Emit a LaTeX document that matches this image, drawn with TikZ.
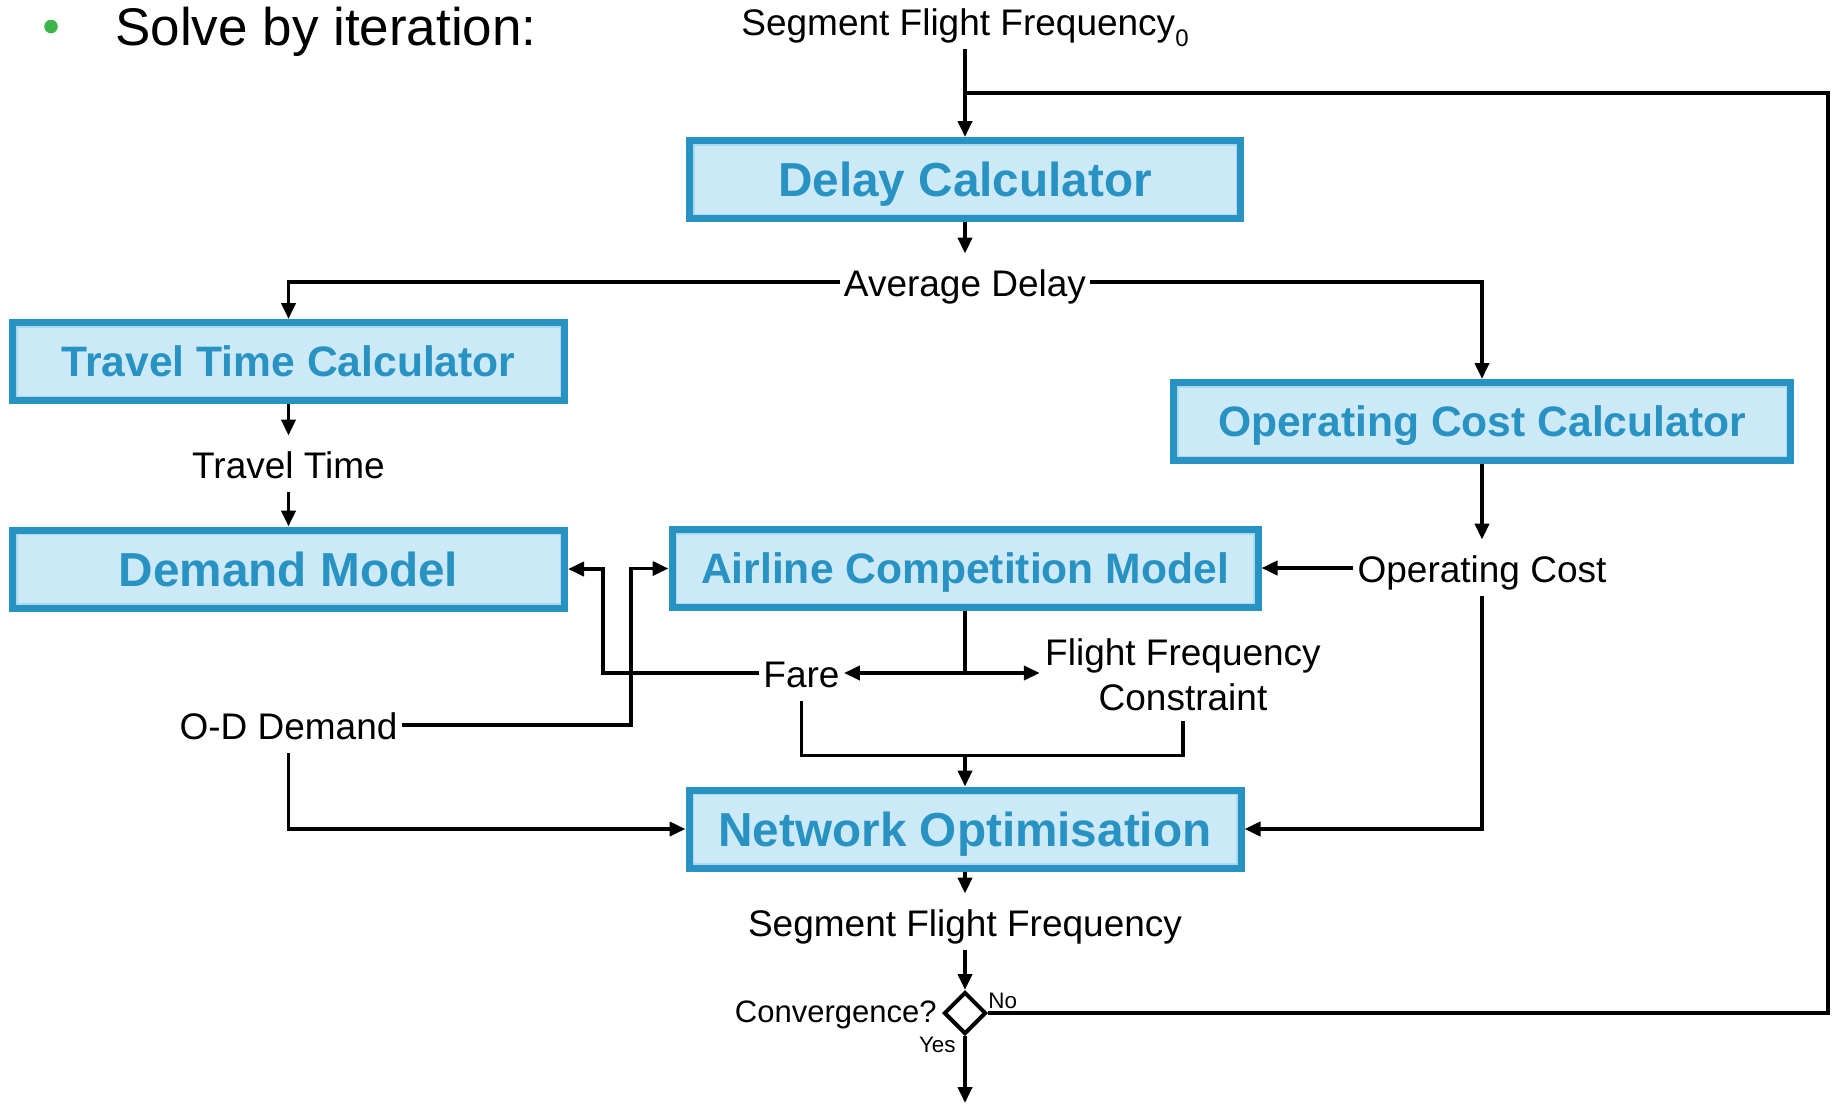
\documentclass[tikz,border=0pt]{standalone}
\usepackage{fontspec}
\setmainfont{Liberation Sans}
\usetikzlibrary{arrows.meta,shapes.geometric,calc}
\definecolor{boxblue}{HTML}{2892C3}
\definecolor{boxfill}{HTML}{CCE9F8}
\definecolor{boxedge}{HTML}{A9DAF2}
\definecolor{bulletgreen}{HTML}{3DB54A}
\begin{document}
\begin{tikzpicture}[x=0.5pt,y=-0.5pt,
  line/.style={line width=1.9pt, draw=black},
  arr/.style={line, -{Triangle[length=8pt,width=7pt]}},
  blk/.style={draw=boxblue, fill=boxfill, line width=3.5pt, minimum height=39pt,
    inner sep=0pt, text=boxblue, text height=17pt, text depth=0pt,
    font=\bfseries\fontsize{23.85pt}{28pt}\selectfont,
    path picture={\draw[boxedge, line width=0.8pt]
      ([shift={(2.1pt,2.1pt)}]path picture bounding box.south west) rectangle
      ([shift={(-2.1pt,-2.1pt)}]path picture bounding box.north east);}},
  blks/.style={blk, text height=15.25pt, font=\bfseries\fontsize{21.3pt}{26pt}\selectfont},
  lbl/.style={font=\fontsize{18.5pt}{22pt}\selectfont, text height=20pt, text depth=6pt,
    inner xsep=2pt, inner ysep=1pt, anchor=base},
]
\path[use as bounding box] (0,0) rectangle (1832,1104);

% title
\node[circle, fill=bulletgreen, minimum size=6.8pt, inner sep=0pt] (bullet) at (51,26.5) {};
\node[font=\fontsize{26.5pt}{32pt}\selectfont, anchor=base west, inner sep=0pt] (title) at (115,45) {Solve by iteration:};

% boxes
\node[blk, minimum width=275.5pt] (delay) at (965,179.5) {Delay Calculator};
\node[blks, minimum width=276pt] (ttc) at (288.5,361.5) {Travel Time Calculator};
\node[blk, minimum width=276pt] (dm) at (288.5,569) {Demand Model};
\node[blks, minimum width=293pt] (acm) at (965,568.5) {Airline Competition Model};
\node[blks, minimum width=308.5pt] (occ) at (1482,421.5) {Operating Cost Calculator};
\node[blk, minimum width=276pt] (no) at (965,829) {Network Optimisation};

% labels
\node[lbl] (sff0) at (965,35) {Segment Flight Frequency{\fontsize{12pt}{14pt}\selectfont\raisebox{-5.5pt}{0}}};
\node[lbl] (avg) at (965,296) {Average Delay};
\node[lbl] (tt) at (288.5,478) {Travel Time};
\node[lbl] (oc) at (1482,582) {Operating Cost};
\node[lbl] (fare) at (801.5,687) {Fare};
\node[lbl] (od) at (288.5,739) {O-D Demand};
\node[lbl] (sff) at (965,936) {Segment Flight Frequency};
\node[font=\fontsize{18.5pt}{22.5pt}\selectfont, align=center, anchor=north,
  inner xsep=2.5pt, inner ysep=5pt] (ffc) at (1183,628) {Flight Frequency\\Constraint};

% decision
\node[draw, diamond, line width=2pt, fill=white, minimum width=21pt, minimum height=21pt,
  inner sep=0pt] (dia) at (965,1013) {};
\node[font=\fontsize{15.5pt}{18pt}\selectfont, anchor=base east, inner sep=0pt] (conv) at (937,1022) {Convergence?};
\node[font=\fontsize{11.2pt}{13pt}\selectfont, anchor=base west, inner sep=0pt] (nolbl) at (988,1008) {No};
\node[font=\fontsize{11.2pt}{13pt}\selectfont, anchor=base east, inner sep=0pt] (yeslbl) at (956,1052) {Yes};

% helper coordinates
\coordinate (fbjoin) at (965,93);
\coordinate (fbr) at (1828,93);
\coordinate (fx) at (603,0);
\coordinate (ox) at (631,0);
\coordinate (mj) at (965,755.5);
\coordinate (out) at (965,1103);
\coordinate (acmj) at (acm.south |- fare.east);

% connectors
\draw[arr] (sff0.south) -- (delay.north);
\draw[line] (dia.east) -- (dia.east -| fbr) |- (fbjoin);
\draw[arr] (delay.south) -- (avg.north);
\draw[arr] (avg.west) -| (ttc.north);
\draw[arr] (avg.east) -| (occ.north);
\draw[arr] (ttc.south) -- (tt.north);
\draw[arr] (tt.south) -- (dm.north);
\draw[arr] (occ.south) -- (oc.north);
\draw[arr] (oc.west) -- (oc.west -| acm.east);
\draw[arr] (oc.south) |- (no.east);
\draw[line] (acm.south) -- (acmj);
\draw[arr] (acmj) -- (fare.east);
\draw[arr] (acmj) -- (acmj -| ffc.west);
\draw[arr] (fare.west) -- (fare.west -| fx) |- (dm.east);
\draw[arr] (od.east) -- (od.east -| ox) |- (acm.west);
\draw[arr] (od.south) |- (no.west);
\draw[line] (fare.south) |- (mj) -| (ffc.south);
\draw[arr] (mj) -- (no.north);
\draw[arr] (no.south) -- (sff.north);
\draw[arr] (sff.south) -- (dia.north);
\draw[arr] (dia.south) -- (out);
\end{tikzpicture}
\end{document}
